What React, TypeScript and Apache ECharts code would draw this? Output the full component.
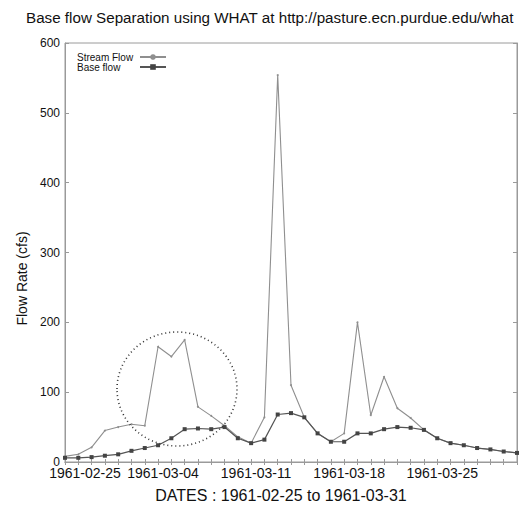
import React, { useEffect, useRef } from "react";
import * as echarts from "echarts";

const dates = [
  "1961-02-25", "1961-02-26", "1961-02-27", "1961-02-28", "1961-03-01",
  "1961-03-02", "1961-03-03", "1961-03-04", "1961-03-05", "1961-03-06",
  "1961-03-07", "1961-03-08", "1961-03-09", "1961-03-10", "1961-03-11",
  "1961-03-12", "1961-03-13", "1961-03-14", "1961-03-15", "1961-03-16",
  "1961-03-17", "1961-03-18", "1961-03-19", "1961-03-20", "1961-03-21",
  "1961-03-22", "1961-03-23", "1961-03-24", "1961-03-25", "1961-03-26",
  "1961-03-27", "1961-03-28", "1961-03-29", "1961-03-30", "1961-03-31",
];

const streamFlow = [
  8, 11, 21, 45, 50, 54, 52, 165, 151, 175, 79, 66, 52, 36, 27, 64, 554, 110,
  64, 41, 29, 41, 200, 67, 122, 77, 63, 46, 34, 27, 24, 20, 18, 15, 13,
];

const baseFlow = [
  6, 6, 7, 9, 11, 16, 20, 24, 34, 47, 48, 47, 50, 34, 27, 32, 68, 70, 64, 41,
  29, 29, 41, 41, 47, 50, 49, 46, 34, 27, 24, 20, 18, 15, 13,
];

const tickDates = ["1961-02-25", "1961-03-04", "1961-03-11", "1961-03-18", "1961-03-25"];
const seriesNames = ["Stream Flow", "Base flow"];

const titleText = "Base flow Separation using WHAT at http://pasture.ecn.purdue.edu/what";
const xName = "DATES : 1961-02-25 to 1961-03-31";
const yName = "Flow Rate (cfs)";

const FONT = "'Liberation Sans', Arial, sans-serif";

export default function App() {
  const ref = useRef<HTMLDivElement>(null);
  useEffect(() => {
    if (!ref.current) return;
    const chart = echarts.init(ref.current, null, { renderer: "svg" });
    const axisLine = { show: true, lineStyle: { color: "#9a9a9a", width: 1 } };
    const tickStyle = { color: "#9a9a9a" };
    chart.setOption({
      animation: false,
      backgroundColor: "#ffffff",
      textStyle: { fontFamily: FONT },
      title: {
        text: titleText,
        left: 21,
        top: 5,
        textStyle: { fontSize: 15.2, fontWeight: "normal", color: "#111", fontFamily: FONT },
      },
      legend: {
        orient: "vertical",
        left: 72,
        top: 47,
        align: "right",
        itemGap: 0,
        itemWidth: 26,
        itemHeight: 7,
        formatter: (name: string) => `{t|${name}}`,
        textStyle: {
          fontSize: 10,
          color: "#111",
          fontFamily: FONT,
          rich: { t: { width: 58, align: "left", fontSize: 10, fontFamily: FONT, color: "#111" } },
        },
        data: seriesNames,
      },
      grid: {
        left: 65,
        right: 3,
        top: 43,
        bottom: 54,
        show: true,
        borderColor: "#9a9a9a",
        borderWidth: 1,
        outerBoundsMode: "none",
      },
      xAxis: [
        {
          type: "category",
          data: dates,
          boundaryGap: false,
          name: xName,
          nameLocation: "middle",
          nameGap: 25,
          nameTextStyle: { fontSize: 16, color: "#111", padding: [0, 20, 0, 0] },
          axisLine,
          axisTick: { show: true, inside: true, interval: 0, length: 3, lineStyle: tickStyle },
          axisLabel: {
            interval: 0,
            formatter: (v: string, i: number) =>
              tickDates.includes(v) ? (i === 0 ? `{first|${v}}` : v) : "",
            rich: { first: { padding: [0, 0, 0, 30], fontSize: 14, color: "#111" } },
            fontSize: 14,
            color: "#111",
            margin: 4,
            padding: [0, 0, 0, 10],
          },
          splitLine: { show: false },
        },
        {
          type: "category",
          data: dates,
          boundaryGap: false,
          position: "top",
          axisLine,
          axisTick: { show: true, inside: true, interval: 0, length: 3, lineStyle: tickStyle },
          axisLabel: { show: false },
        },
      ],
      yAxis: [
        {
          type: "value",
          min: 0,
          max: 600,
          interval: 100,
          name: yName,
          nameLocation: "middle",
          nameGap: 28,
          nameTextStyle: { fontSize: 14, color: "#111", padding: [0, 52, 0, 0] },
          axisLine,
          axisTick: { show: true, inside: true, length: 4, lineStyle: tickStyle },
          axisLabel: {
            fontSize: 12,
            color: "#111",
            margin: 5,
            showMinLabel: true,
            padding: [10, 0, 0, 0],
          },
          splitLine: { show: false },
        },
        {
          type: "value",
          min: 0,
          max: 600,
          interval: 100,
          position: "right",
          axisLine,
          axisTick: { show: true, inside: true, length: 4, lineStyle: tickStyle },
          axisLabel: { show: false },
          splitLine: { show: false },
        },
      ],
      series: [
        {
          name: seriesNames[0],
          type: "line",
          data: streamFlow,
          symbol: "circle",
          symbolSize: 2,
          itemStyle: { color: "#8f8f8f" },
          lineStyle: { color: "#8f8f8f", width: 1.1 },
        },
        {
          name: seriesNames[1],
          type: "line",
          data: baseFlow,
          symbol: "rect",
          symbolSize: 4,
          itemStyle: { color: "#444" },
          lineStyle: { color: "#555", width: 1.2 },
        },
      ],
      graphic: [
        {
          type: "ellipse",
          shape: { cx: 177, cy: 389, rx: 60, ry: 57 },
          style: { fill: "none", stroke: "#333", lineWidth: 1.6, lineDash: [1, 3] },
          z: 100,
        },
      ],
    });
    return () => chart.dispose();
  }, []);
  return <div ref={ref} style={{ width: 520, height: 516, position: "absolute", left: 0, top: 0 }} />;
}
